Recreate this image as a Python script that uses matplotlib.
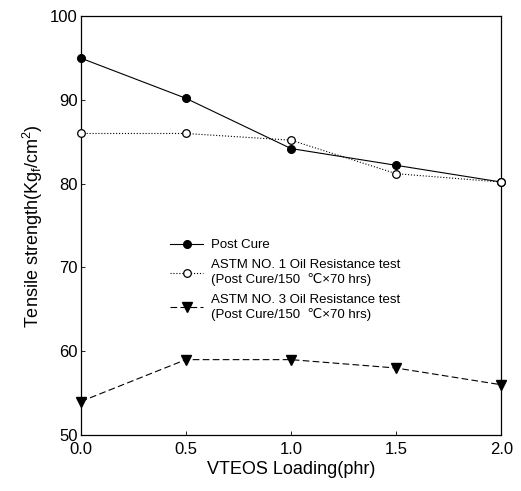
import matplotlib
matplotlib.use("Agg")
import matplotlib.pyplot as plt

x = [0.0, 0.5, 1.0, 1.5, 2.0]
post_cure = [95.0, 90.2, 84.2, 82.2, 80.2]
oil1 = [86.0, 86.0, 85.2, 81.2, 80.2]
oil3 = [54.0, 59.0, 59.0, 58.0, 56.0]
xticks = [0.0, 0.5, 1.0, 1.5, 2.0]
yticks = [50, 60, 70, 80, 90, 100]

plt.rcParams['font.family'] = ['Liberation Sans', 'DejaVu Sans']
plt.rcParams['mathtext.fontset'] = 'custom'
plt.rcParams['mathtext.rm'] = 'Liberation Sans'
plt.rcParams['mathtext.it'] = 'Liberation Sans'

fig = plt.figure(figsize=(5.21, 4.91), dpi=100)
ax = fig.add_axes([0.155, 0.114, 0.807, 0.853])

ax.plot(x, post_cure, '-', color='black', lw=0.8, marker='o', ms=5.5,
        label='Post Cure', clip_on=False, zorder=3)
ax.plot(x, oil1, ':', color='black', lw=0.8, marker='o', ms=5.5, mfc='white',
        mec='black', mew=0.9,
        label='ASTM NO. 1 Oil Resistance test\n(Post Cure/150  \u2103\u00d770 hrs)',
        clip_on=False, zorder=3)
ax.plot(x, oil3, '--', color='black', lw=0.8, dashes=(6, 3), marker='v', ms=6.5,
        label='ASTM NO. 3 Oil Resistance test\n(Post Cure/150  \u2103\u00d770 hrs)',
        clip_on=False, zorder=3)

ax.set_xlim(0, 2.0)
ax.set_ylim(50, 100)
ax.set_xticks(xticks)
ax.set_xticklabels([f'{v:.1f}' for v in xticks])
ax.set_yticks(yticks)
ax.tick_params(direction='in', length=3, width=0.6, labelsize=12, pad=2)
ax.tick_params(axis='x', pad=5)
for s in ax.spines.values():
    s.set_linewidth(0.9)

ax.set_xlabel('VTEOS Loading(phr)', fontsize=13, labelpad=3)
ax.set_ylabel('Tensile strength(Kg$_\\mathregular{f}$/cm$^\\mathregular{2}$)',
              fontsize=13, labelpad=4)

ax.legend(loc='center left', bbox_to_anchor=(0.185, 0.37), frameon=False,
          fontsize=9.5, handlelength=2.5, labelspacing=0.6, handletextpad=0.6)

fig.savefig('out.png', dpi=100)
